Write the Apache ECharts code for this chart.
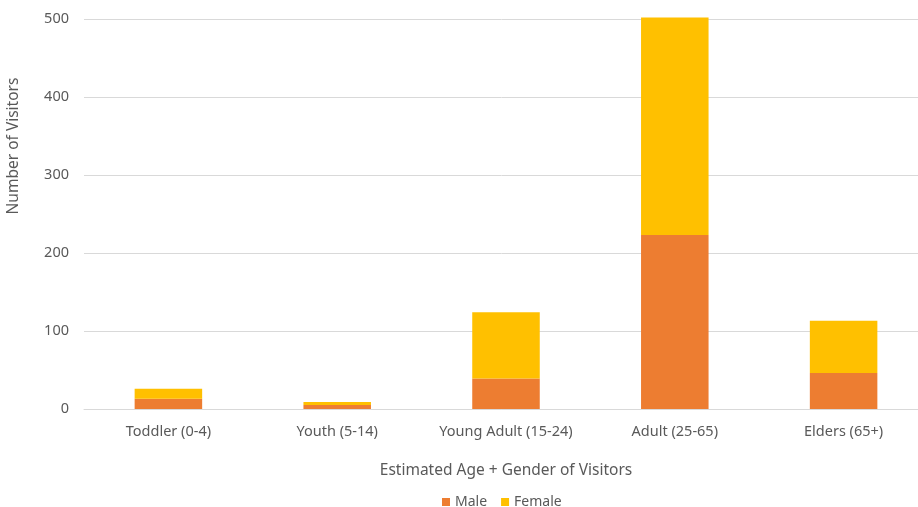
<!DOCTYPE html>
<html>
<head>
<meta charset="utf-8">
<script src="https://cdn.jsdelivr.net/npm/echarts@6/dist/echarts.min.js"></script>
<style>html,body{margin:0;padding:0;background:#fff;}#c{width:918px;height:507px;}</style>
</head>
<body>
<div id="c"></div>
<script>
const categories = ['Toddler (0-4)', 'Youth (5-14)', 'Young Adult (15-24)', 'Adult (25-65)', 'Elders (65+)'];
const male = [13, 5, 39, 223, 46];
const female = [13, 4, 85, 279, 67];
const yTicks = [0, 100, 200, 300, 400, 500];

const font = '"Noto Sans", "Open Sans", sans-serif';
const txt = '#595959';
const chart = echarts.init(document.getElementById('c'));
chart.setOption({
  animation: false,
  textStyle: { fontFamily: font },
  grid: { left: 84, top: 19, right: -10, height: 390, containLabel: false, outerBoundsMode: 'none' },
  legend: {
    top: 490, left: 437,
    itemWidth: 8, itemHeight: 8, itemGap: 14,
    icon: 'rect',
    textStyle: { color: txt, fontSize: 14, fontFamily: font },
    data: ['Male', 'Female']
  },
  graphic: [{
    type: 'text', x: 14, y: 146, rotation: Math.PI / 2,
    style: { text: 'Number of Visitors', fill: txt, fontSize: 15.5, fontFamily: font, align: 'center', verticalAlign: 'middle' }
  }],
  xAxis: {
    type: 'category', data: categories,
    name: 'Estimated Age + Gender of Visitors', nameLocation: 'middle', nameGap: 54,
    nameTextStyle: { color: txt, fontSize: 15.5, fontFamily: font },
    axisLine: { lineStyle: { color: '#D9D9D9', width: 1 } },
    axisTick: { show: false },
    axisLabel: { color: txt, fontSize: 14.5, margin: 15, interval: 0, fontFamily: font }
  },
  yAxis: {
    type: 'value', min: yTicks[0], max: yTicks[yTicks.length - 1], interval: 100,
    axisLine: { show: false }, axisTick: { show: false },
    axisLabel: { color: txt, fontSize: 14.5, margin: 15, fontFamily: font },
    splitLine: { lineStyle: { color: '#D9D9D9', width: 1 } }
  },
  series: [
    { name: 'Male', type: 'bar', stack: 'a', data: male, barWidth: '40%', clip: false, itemStyle: { color: '#ED7D31' } },
    { name: 'Female', type: 'bar', stack: 'a', data: female, barWidth: '40%', clip: false, itemStyle: { color: '#FFC000' } }
  ]
});
</script>
</body>
</html>
